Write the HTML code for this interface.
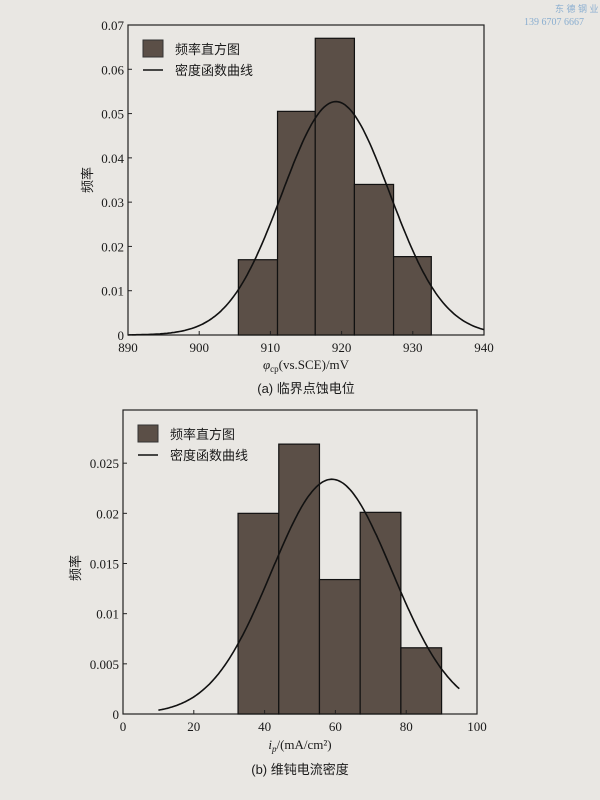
<!DOCTYPE html>
<html><head><meta charset="utf-8"><style>
html,body{margin:0;padding:0;background:#e9e7e3;}
svg{display:block}
text{font-family:"Liberation Serif","Noto Serif CJK SC",serif;fill:#1a1a1a;}
.cj{font-family:"Liberation Sans","Noto Sans CJK SC",sans-serif;}
</style></head><body>
<svg id="s" width="600" height="800" xmlns="http://www.w3.org/2000/svg">
<rect width="600" height="800" fill="#e9e7e3"/>
<text x="555" y="12" font-size="9" fill="#7fa6cc" style="fill:#8aaed0" class="cj">东 德 钢 业</text>
<text x="524" y="25" font-size="10" style="fill:#8aaed0">139 6707 6667</text>
<g id="c1"></g><g id="c2"></g>
</svg>
<script>
function chart(g,o){
 var s='',X=function(v){return o.x0+(v-o.xa)/(o.xb-o.xa)*(o.x1-o.x0)},Y=function(v){return o.y0-(v/o.ymax)*(o.y0-o.y1)};
 s+='<rect x="'+o.x0+'" y="'+o.y1+'" width="'+(o.x1-o.x0)+'" height="'+(o.y0-o.y1)+'" fill="none" stroke="#222" stroke-width="1.2"/>';
 o.bars.forEach(function(b){s+='<rect x="'+X(b[0])+'" y="'+Y(b[2])+'" width="'+(X(b[1])-X(b[0]))+'" height="'+(o.y0-Y(b[2]))+'" fill="#5b4f47" stroke="#111" stroke-width="1.2"/>';});
 var p='';for(var v=o.ca;v<=o.cb+1e-9;v+=(o.cb-o.ca)/200){var d=Math.exp(-Math.pow(v-o.mu,2)/(2*o.sd*o.sd))/(o.sd*2.5066);p+=(p?'L':'M')+X(v).toFixed(1)+','+Y(d).toFixed(1);}
 s+='<path d="'+p+'" fill="none" stroke="#111" stroke-width="1.6"/>';
 o.yt.forEach(function(t){s+='<line x1="'+o.x0+'" x2="'+(o.x0+4)+'" y1="'+Y(t[0])+'" y2="'+Y(t[0])+'" stroke="#222"/><text x="'+(o.x0-4)+'" y="'+(Y(t[0])+5)+'" font-size="13" text-anchor="end">'+t[1]+'</text>';});
 o.xt.forEach(function(t){s+='<line x1="'+X(t)+'" x2="'+X(t)+'" y1="'+o.y0+'" y2="'+(o.y0-4)+'" stroke="#222"/><text x="'+X(t)+'" y="'+(o.y0+17)+'" font-size="13" text-anchor="middle">'+t+'</text>';});
 s+='<rect x="'+(o.x0+15)+'" y="'+(o.y1+15)+'" width="20" height="17" fill="#5b4f47" stroke="#333"/>';
 s+='<text class="cj" x="'+(o.x0+47)+'" y="'+(o.y1+29)+'" font-size="13">频率直方图</text>';
 s+='<line x1="'+(o.x0+15)+'" x2="'+(o.x0+35)+'" y1="'+(o.y1+45)+'" y2="'+(o.y1+45)+'" stroke="#111" stroke-width="1.6"/>';
 s+='<text class="cj" x="'+(o.x0+47)+'" y="'+(o.y1+50)+'" font-size="13">密度函数曲线</text>';
 s+='<text class="cj" font-size="13" transform="translate('+o.yl[0]+','+o.yl[1]+') rotate(-90)" text-anchor="middle">频率</text>';
 s+=o.extra;
 document.getElementById(g).innerHTML=s;
}
chart('c1',{x0:128,x1:484,y0:335,y1:25,xa:890,xb:940,ymax:0.07,
 bars:[[905.5,911,0.017],[911,916.3,0.0505],[916.3,921.8,0.067],[921.8,927.3,0.034],[927.3,932.6,0.0177]],
 mu:919.2,sd:7.57,ca:890,cb:940,
 yt:[[0,'0'],[0.01,'0.01'],[0.02,'0.02'],[0.03,'0.03'],[0.04,'0.04'],[0.05,'0.05'],[0.06,'0.06'],[0.07,'0.07']],
 xt:[890,900,910,920,930,940],yl:[92,180],
 extra:'<text x="306" y="369" font-size="13" text-anchor="middle"><tspan font-style="italic">φ</tspan><tspan font-size="9" dy="3">cp</tspan><tspan dy="-3">(vs.SCE)/mV</tspan></text><text class="cj" x="306" y="393" font-size="13" text-anchor="middle">(a) 临界点蚀电位</text>'});
chart('c2',{x0:123,x1:477,y0:714,y1:410,xa:0,xb:100,ymax:0.0303,
 bars:[[32.5,44,0.020],[44,55.5,0.0269],[55.5,67,0.0134],[67,78.5,0.0201],[78.5,90,0.0066]],
 mu:59,sd:17.05,ca:10,cb:95,
 yt:[[0,'0'],[0.005,'0.005'],[0.01,'0.01'],[0.015,'0.015'],[0.02,'0.02'],[0.025,'0.025']],
 xt:[0,20,40,60,80,100],yl:[80,568],
 extra:'<text x="300" y="749" font-size="13" text-anchor="middle"><tspan font-style="italic">i</tspan><tspan font-size="9" dy="3" font-style="italic">p</tspan><tspan dy="-3">/(mA/cm²)</tspan></text><text class="cj" x="300" y="774" font-size="13" text-anchor="middle">(b) 维钝电流密度</text>'});
</script>
</body></html>
